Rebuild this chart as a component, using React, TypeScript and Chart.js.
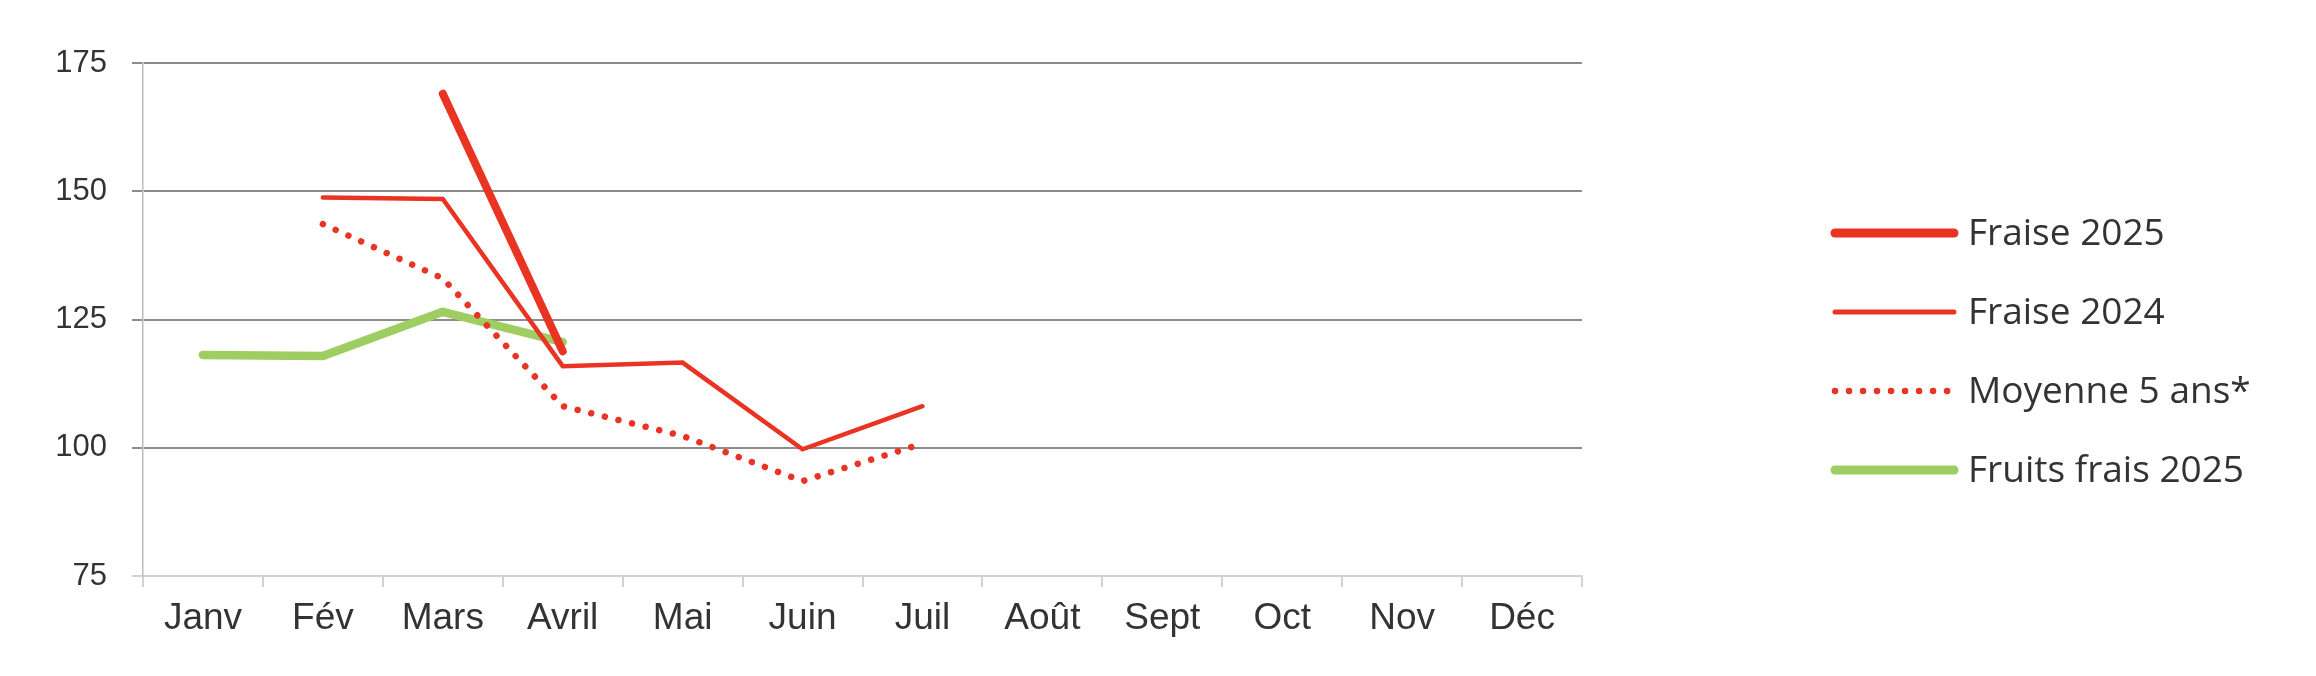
import React, { useEffect, useRef } from "react";
import { Chart, registerables } from "chart.js";

Chart.register(...registerables);

const months = ["Janv", "Fév", "Mars", "Avril", "Mai", "Juin", "Juil", "Août", "Sept", "Oct", "Nov", "Déc"];
const fraise2025 = [null, null, 169, 118.8, null, null, null, null, null, null, null, null];
const fraise2024 = [null, 148.8, 148.5, 115.9, 116.6, 99.7, 108.1, null, null, null, null, null];
const moyenne5ans = [null, 143.6, 133, 108.1, 102.3, 93.5, 100.8, null, null, null, null, null];
const fruitsFrais2025 = [118.1, 117.9, 126.5, 120.6, null, null, null, null, null, null, null, null];
const yTicks = [75, 100, 125, 150, 175];

const RED = "#e93424";
const GREEN = "#9ecd61";
const TEXT = "#333333";

const legendPlugin = {
  id: "customLegend",
  afterDraw(chart: any) {
    const ctx = chart.ctx;
    const x0 = chart.width - 484;
    const lineLen = 125;
    const top = 233;
    const step = 79;
    ctx.save();
    chart.data.datasets.forEach((ds: any, i: number) => {
      const y = top + i * step;
      ctx.beginPath();
      ctx.strokeStyle = ds.borderColor;
      ctx.lineWidth = ds.legendWidth || ds.borderWidth;
      ctx.lineCap = "round";
      ctx.setLineDash(ds.borderDash || []);
      ctx.moveTo(x0 + 3, y);
      ctx.lineTo(x0 + lineLen - 3, y);
      ctx.stroke();
      ctx.setLineDash([]);
      ctx.fillStyle = TEXT;
      ctx.font = '37px "Open Sans"';
      ctx.textBaseline = "middle";
      ctx.textAlign = "left";
      ctx.fillText(ds.label, x0 + lineLen + 11, y + 1);
    });
    ctx.restore();
  },
};

export default function App() {
  const ref = useRef<HTMLCanvasElement | null>(null);

  useEffect(() => {
    document.body.style.margin = "0";
    const canvas = ref.current;
    if (!canvas) return;
    const chart = new Chart(canvas, {
      type: "line",
      data: {
        labels: months,
        datasets: [
          {
            label: "Fraise 2025",
            data: fraise2025,
            borderColor: RED,
            backgroundColor: RED,
            borderWidth: 8,
            legendWidth: 9,
            borderCapStyle: "round",
            borderJoinStyle: "round",
            pointRadius: 0,
            tension: 0,
          } as any,
          {
            label: "Fraise 2024",
            data: fraise2024,
            borderColor: RED,
            backgroundColor: RED,
            borderWidth: 4.5,
            legendWidth: 5,
            borderCapStyle: "round",
            borderJoinStyle: "miter",
            pointRadius: 0,
            tension: 0,
          } as any,
          {
            label: "Moyenne 5 ans*",
            data: moyenne5ans,
            borderColor: RED,
            backgroundColor: RED,
            borderWidth: 6.5,
            legendWidth: 6.5,
            borderDash: [0.01, 14],
            borderCapStyle: "round",
            borderJoinStyle: "round",
            pointRadius: 0,
            tension: 0,
          } as any,
          {
            label: "Fruits frais 2025",
            data: fruitsFrais2025,
            borderColor: GREEN,
            backgroundColor: GREEN,
            borderWidth: 8.5,
            legendWidth: 9,
            borderCapStyle: "round",
            borderJoinStyle: "round",
            pointRadius: 0,
            tension: 0,
          } as any,
        ],
      },
      options: {
        animation: false,
        responsive: true,
        maintainAspectRatio: false,
        layout: { padding: { left: 0, right: 734, top: 63, bottom: 0 } },
        plugins: {
          legend: { display: false },
          tooltip: { enabled: false },
        },
        scales: {
          x: {
            type: "category",
            offset: true,
            afterFit: (s: any) => {
              s.height = 100;
            },
            grid: {
              display: true,
              offset: true,
              drawOnChartArea: false,
              drawTicks: true,
              tickLength: 11,
              color: "#d2d2d2",
              lineWidth: 2,
            },
            border: { display: true, color: "#d2d2d2", width: 2 },
            ticks: {
              color: TEXT,
              font: { family: '"Liberation Sans", Arial, sans-serif', size: 37 },
              padding: 10,
              maxRotation: 0,
              autoSkip: false,
            },
          },
          y: {
            min: 75,
            max: 175,
            afterFit: (s: any) => {
              s.width = 143;
            },
            afterBuildTicks: (s: any) => {
              s.ticks = yTicks.map((v) => ({ value: v }));
            },
            grid: {
              display: true,
              drawTicks: true,
              tickLength: 11,
              lineWidth: 2,
              color: (c: any) => (c.tick && c.tick.value === 75 ? "#d2d2d2" : "#8c8c8c"),
            },
            border: { display: true, color: "#bdbdbd", width: 1.5 },
            ticks: {
              color: TEXT,
              font: { family: '"Liberation Sans", Arial, sans-serif', size: 31 },
              padding: 25,
            },
          },
        },
      },
      plugins: [legendPlugin],
    });
    return () => chart.destroy();
  }, []);

  return (
    <div style={{ position: "absolute", left: 0, top: 0, width: 2316, height: 676, background: "#fff" }}>
      <canvas ref={ref} />
    </div>
  );
}
